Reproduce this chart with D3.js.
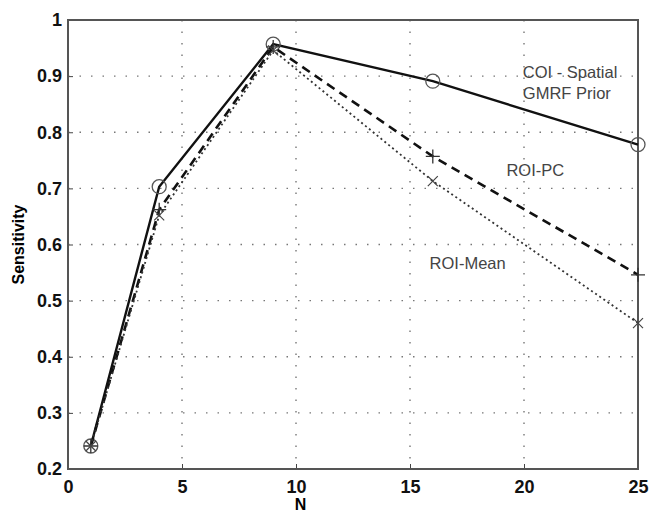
<!DOCTYPE html>
<html>
<head>
<meta charset="utf-8">
<script src="https://cdn.jsdelivr.net/npm/d3@7"></script>
<style>
  body { margin: 0; background: #fff; }
  text { font-family: "Liberation Sans", Arial, sans-serif; }
</style>
</head>
<body>
<script>
// chart data
var nValues = [1, 4, 9, 16, 25];
var coiSpatial = [0.241, 0.703, 0.957, 0.891, 0.778];
var roiPC = [0.241, 0.662, 0.952, 0.757, 0.546];
var roiMean = [0.241, 0.652, 0.946, 0.713, 0.460];
var xTicks = [0, 5, 10, 15, 20, 25];
var yTicks = [0.2, 0.3, 0.4, 0.5, 0.6, 0.7, 0.8, 0.9, 1];

var svgWidth = 650;
var svgHeight = 513;

var chartMargin = { top: 20, right: 12, bottom: 44, left: 68 };
var chartWidth = svgWidth - chartMargin.left - chartMargin.right;
var chartHeight = svgHeight - chartMargin.top - chartMargin.bottom;

var svg = d3.select("body")
  .append("svg")
  .attr("width", svgWidth)
  .attr("height", svgHeight);

var chartGroup = svg.append("g")
  .attr("transform", `translate(${chartMargin.left}, ${chartMargin.top})`);

var x = d3.scaleLinear().domain([0, 25]).range([0, chartWidth]);
var y = d3.scaleLinear().domain([0.2, 1]).range([chartHeight, 0]);

// dotted grid
chartGroup.append("g")
  .selectAll("line")
  .data(xTicks.slice(1, -1))
  .enter().append("line")
  .attr("x1", d => x(d)).attr("x2", d => x(d))
  .attr("y1", 0).attr("y2", chartHeight)
  .attr("stroke", "#777").attr("stroke-width", 1.4)
  .attr("stroke-dasharray", "1.5,10");

chartGroup.append("g")
  .selectAll("line")
  .data(yTicks.slice(1, -1))
  .enter().append("line")
  .attr("x1", 0).attr("x2", chartWidth)
  .attr("y1", d => y(d)).attr("y2", d => y(d))
  .attr("stroke", "#777").attr("stroke-width", 1.4)
  .attr("stroke-dasharray", "1.5,10");

// axes
var xAxis = chartGroup.append("g")
  .attr("transform", "translate(0," + chartHeight + ")")
  .call(d3.axisBottom(x).tickValues(xTicks).tickSizeInner(-5).tickSizeOuter(0).tickPadding(11).tickFormat(d3.format("d")));

var yAxis = chartGroup.append("g")
  .call(d3.axisLeft(y).tickValues(yTicks).tickSizeInner(-5).tickSizeOuter(0).tickPadding(6).tickFormat(d => d === 1 ? "1" : d3.format(".1f")(d)));

[xAxis, yAxis].forEach(function(ax) {
  ax.selectAll("path").remove();
  ax.selectAll("line").attr("stroke", "#444");
  ax.selectAll("text")
    .style("font-size", "18px")
    .style("font-weight", "bold")
    .attr("fill", "#111");
});

// frame
chartGroup.append("rect")
  .attr("x", 0).attr("y", 0)
  .attr("width", chartWidth).attr("height", chartHeight)
  .attr("fill", "none")
  .attr("stroke", "#555")
  .attr("stroke-width", 2);

// lines
var series = [
  { name: "COI", values: coiSpatial, dash: null, width: 2.4, color: "#111", marker: "circle" },
  { name: "PC", values: roiPC, dash: "9,6", width: 2.6, color: "#111", marker: "plus" },
  { name: "Mean", values: roiMean, dash: "2,3", width: 1.8, color: "#333", marker: "cross" }
];

var line = d3.line()
  .x((d, i) => x(nValues[i]))
  .y(d => y(d));

series.forEach(function(s) {
  chartGroup.append("path")
    .datum(s.values)
    .attr("d", line)
    .attr("fill", "none")
    .attr("stroke", s.color)
    .attr("stroke-width", s.width)
    .attr("stroke-dasharray", s.dash);

  var g = chartGroup.append("g");
  s.values.forEach(function(v, i) {
    var cx = x(nValues[i]), cy = y(v);
    if (s.marker === "circle") {
      g.append("circle").attr("cx", cx).attr("cy", cy).attr("r", 7)
        .attr("fill", "none").attr("stroke", "#555").attr("stroke-width", 1.3);
    } else if (s.marker === "plus") {
      g.append("path").attr("d", `M${cx - 7},${cy}H${cx + 7}M${cx},${cy - 7}V${cy + 7}`)
        .attr("stroke", "#333").attr("stroke-width", 1.3);
    } else {
      g.append("path").attr("d", `M${cx - 5},${cy - 5}L${cx + 5},${cy + 5}M${cx - 5},${cy + 5}L${cx + 5},${cy - 5}`)
        .attr("stroke", "#444").attr("stroke-width", 1.2);
    }
  });
});

// annotations
var notes = [
  { text: "COI - Spatial", n: 19.95, v: 0.897 },
  { text: "GMRF Prior", n: 19.95, v: 0.859 },
  { text: "ROI-PC", n: 19.23, v: 0.722 },
  { text: "ROI-Mean", n: 15.86, v: 0.556 }
];
chartGroup.selectAll(".note")
  .data(notes)
  .enter().append("text")
  .attr("x", d => x(d.n))
  .attr("y", d => y(d.v))
  .style("font-size", "16.5px")
  .attr("fill", "#444")
  .text(d => d.text);

// axis labels
svg.append("text")
  .attr("x", chartMargin.left + x(10.2))
  .attr("y", 510)
  .style("text-anchor", "middle")
  .style("font-weight", "bold")
  .style("font-size", "16px")
  .text("N");

svg.append("text")
  .attr("transform", "rotate(-90)")
  .attr("x", -(chartMargin.top + y(0.6)))
  .attr("y", 24)
  .style("text-anchor", "middle")
  .style("font-weight", "bold")
  .style("font-size", "16px")
  .text("Sensitivity");
</script>
</body>
</html>
